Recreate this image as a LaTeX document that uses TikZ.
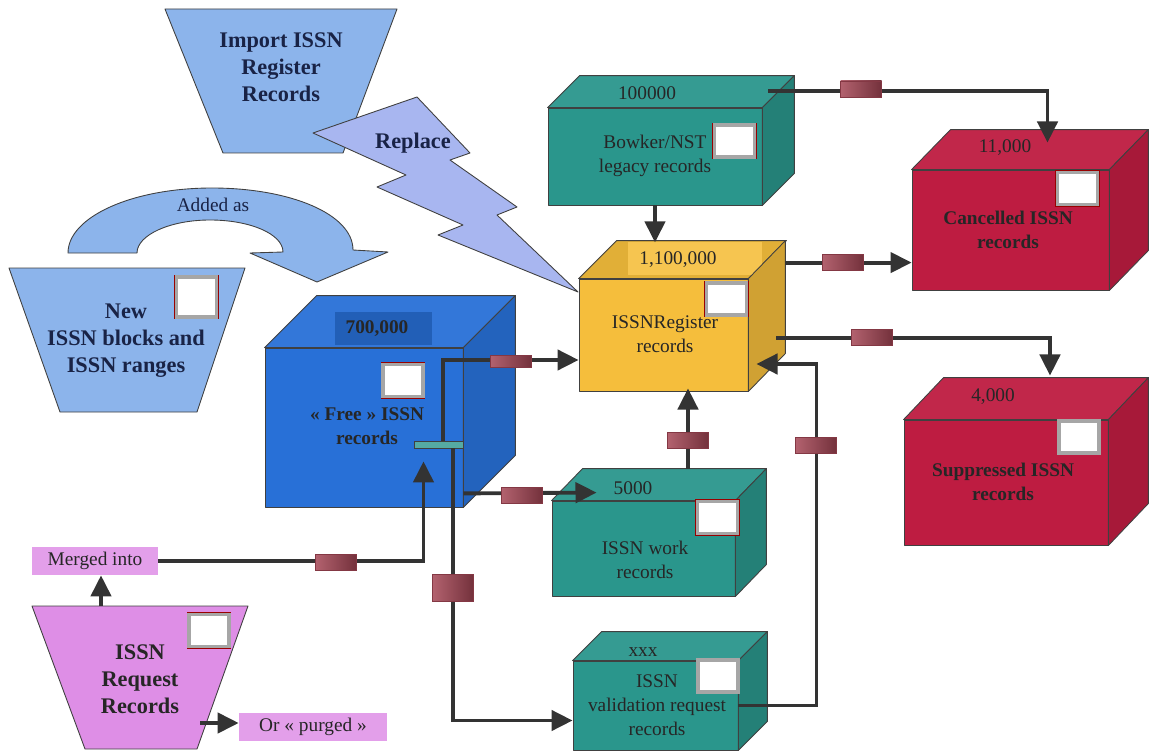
\documentclass[tikz,border=0pt]{standalone}
\usepackage{fontspec}
\setmainfont{Liberation Serif}
\usetikzlibrary{arrows.meta,positioning}

\definecolor{trapblue}{RGB}{140,180,235}
\definecolor{boltblue}{RGB}{168,182,240}
\definecolor{tealbox}{RGB}{42,150,140}
\definecolor{redbox}{RGB}{190,28,65}
\definecolor{bluebox}{RGB}{40,112,215}
\definecolor{yellowbox}{RGB}{245,190,60}
\definecolor{plum}{RGB}{222,142,230}
\definecolor{markred}{RGB}{165,70,85}
\definecolor{navytext}{RGB}{25,35,70}

\begin{document}
\begin{tikzpicture}[x=0.02cm, y=-0.02cm,
face/.style={draw=black!75, line width=0.5pt, line join=round},
front/.style={face, rectangle, inner sep=0pt},
flow/.style={draw=black!80, line width=2.2pt, -{Triangle[length=12pt,width=11.5pt]}},
marker/.style={rectangle, draw=markred!80!black, line width=0.3pt, minimum width=0.82cm, minimum height=0.32cm, inner sep=0pt, left color=markred!85!white, right color=markred!70!black},
icon/.style={rectangle, minimum width=0.8cm, minimum height=0.64cm, inner sep=0pt, fill=white, draw=gray!70, line width=2pt, preaction={draw=red!60!black, line width=2.8pt}},
namebox/.style={rectangle, fill=plum!85!white, inner sep=0pt, minimum height=0.56cm, font=\fontsize{11}{13.6}\selectfont, text=black!85},
title/.style={font=\bfseries\fontsize{12.7}{15.3}\selectfont, text=navytext, align=center},
boldtxt/.style={font=\bfseries\fontsize{11}{13.6}\selectfont, align=center, text=black!85},
plain/.style={font=\fontsize{11}{13.6}\selectfont, align=center, text=black!85}
]
\useasboundingbox (0,0) rectangle (1149,753);

% trapezoids, curved arrow and bolt
\draw[face, fill=trapblue] (165,9) -- (397,9) -- (343,153) -- (223,153) -- cycle;
\node[title] (import) at (281,67) {Import ISSN\\Register\\Records};
\draw[face, fill=trapblue] (9,268) -- (245,268) -- (197,412) -- (60,412) -- cycle;
\node[title] (newblocks) at (126,341) {New\\ISSN blocks and\\ISSN ranges};
\draw[face, fill=plum] (32,606) -- (248,606) -- (197,749) -- (85,749) -- cycle;
\node[title, text=black!85] (request) at (140,679) {ISSN\\Request\\Records};

\draw[face, fill=trapblue] (68,253) .. controls (68,217) and (132,188) .. (212,188)
  .. controls (290,188) and (353,214) .. (353,250) -- (388,252) -- (317,282) -- (250,253)
  -- (283,252) .. controls (283,234) and (250,220) .. (210,220)
  .. controls (170,220) and (137,235) .. (137,253) -- cycle;
\node[plain, text=navytext] (added) at (213,205) {Added as};

\draw[face, fill=boltblue] (313,133) -- (417,97) -- (470,153) -- (450,160) -- (517,207)
  -- (497,215) -- (578,292) -- (438,235) -- (463,225) -- (377,187) -- (406,175) -- cycle;
\node[title] (replace) at (413,143) {Replace};

% record boxes
\node[front, fill=tealbox, minimum width=4.28cm, minimum height=1.94cm] (legacy) at (655,156.5) {};
\draw[face, fill=tealbox!95!white] (legacy.north west) -- ++(32,-32) -- ([shift={(32,-32)}]legacy.north east) -- (legacy.north east) -- cycle;
\draw[face, fill=tealbox!85!black] (legacy.north east) -- ++(32,-32) -- ([shift={(32,-32)}]legacy.south east) -- (legacy.south east) -- cycle;
\node[plain] (legacycount) at (647,93) {100000};
\node[plain] (legacytxt) at (655,156) {Bowker/NST\\legacy records};

\node[front, fill=yellowbox, minimum width=3.38cm, minimum height=2.24cm] (register) at (663.5,335) {};
\draw[face, fill=yellowbox!92!black] (register.north west) -- ++(38,-38) -- ([shift={(38,-38)}]register.north east) -- (register.north east) -- cycle;
\fill[yellowbox!90!white] (628,242) rectangle (762,275);
\draw[face, fill=yellowbox!85!black] (register.north east) -- ++(37,-38) -- ([shift={(37,-38)}]register.south east) -- (register.south east) -- cycle;
\node[plain] (regcount) at (678,260) {1,100,000};
\node[plain] (regtxt) at (665,334) {ISSNRegister\\records};

\node[front, fill=bluebox, minimum width=3.96cm, minimum height=3.18cm] (free) at (364,427.5) {};
\draw[face, fill=bluebox!95!white] (free.north west) -- ++(52,-52) -- ([shift={(52,-52)}]free.north east) -- (free.north east) -- cycle;
\fill[bluebox!85!black] (335,312) rectangle (432,345);
\draw[face, fill=bluebox!88!black] (free.north east) -- ++(52,-52) -- ([shift={(52,-52)}]free.south east) -- (free.south east) -- cycle;
\node[boldtxt] (freecount) at (377,329) {700,000};
\node[boldtxt] (freetxt) at (367,426) {« Free » ISSN\\records};

\node[front, fill=redbox, minimum width=3.94cm, minimum height=2.4cm] (cancelled) at (1010.5,230) {};
\draw[face, fill=redbox!95!white] (cancelled.north west) -- ++(39,-40) -- ([shift={(39,-40)}]cancelled.north east) -- (cancelled.north east) -- cycle;
\draw[face, fill=redbox!88!black] (cancelled.north east) -- ++(39,-40) -- ([shift={(39,-40)}]cancelled.south east) -- (cancelled.south east) -- cycle;
\node[plain] (cancelcount) at (1005,148) {11,000};
\node[boldtxt] (canceltxt) at (1008,230) {Cancelled ISSN\\records};

\node[front, fill=redbox, minimum width=4.08cm, minimum height=2.5cm] (suppressed) at (1006,482.5) {};
\draw[face, fill=redbox!95!white] (suppressed.north west) -- ++(40,-42) -- ([shift={(40,-42)}]suppressed.north east) -- (suppressed.north east) -- cycle;
\draw[face, fill=redbox!88!black] (suppressed.north east) -- ++(40,-42) -- ([shift={(40,-42)}]suppressed.south east) -- (suppressed.south east) -- cycle;
\node[plain] (suppcount) at (993,397) {4,000};
\node[boldtxt] (supptxt) at (1003,482) {Suppressed ISSN\\records};

\node[front, fill=tealbox, minimum width=3.66cm, minimum height=1.9cm] (work) at (643.5,548.5) {};
\draw[face, fill=tealbox!95!white] (work.north west) -- ++(31,-32) -- ([shift={(31,-32)}]work.north east) -- (work.north east) -- cycle;
\draw[face, fill=tealbox!85!black] (work.north east) -- ++(31,-32) -- ([shift={(31,-32)}]work.south east) -- (work.south east) -- cycle;
\node[plain] (workcount) at (633,488) {5000};
\node[plain] (worktxt) at (645,560) {ISSN work\\records};

\node[front, fill=tealbox, minimum width=3.3cm, minimum height=1.78cm] (validation) at (655.5,705.5) {};
\draw[face, fill=tealbox!95!white] (validation.north west) -- ++(29,-29) -- ([shift={(29,-29)}]validation.north east) -- (validation.north east) -- cycle;
\draw[face, fill=tealbox!85!black] (validation.north east) -- ++(29,-29) -- ([shift={(29,-29)}]validation.south east) -- (validation.south east) -- cycle;
\node[plain] (validcount) at (643,652) {xxx};
\node[plain] (validtxt) at (657,705) {ISSN\\validation request\\records};

\node[namebox, minimum width=2.52cm] (merged) at (95,561) {Merged into};
\node[namebox, minimum width=2.96cm] (purged) at (313,727) {Or « purged »};

\node[rectangle, draw=black!75, line width=0.4pt, fill=tealbox!80!white, minimum width=0.98cm, minimum height=0.14cm, inner sep=0pt] (bar) at (438.5,444.5) {};

% connectors
\draw[flow] ([shift={(6,-17)}]legacy.north east) -| ([shift={(37,-27)}]cancelled.north);
\draw[flow] (legacy.south) -- ++(0,37);
\draw[flow] ([shift={(37,-16)}]register.north east) coordinate (r1) -- (cancelled.west |- r1);
\draw[flow] ([shift={(28,3)}]register.east) -| ([shift={(44,-44)}]suppressed.north);
\draw[flow] ([shift={(4.5,0)}]bar.north) |- ([shift={(0,25)}]register.west);
\draw[flow] ([shift={(0,-14)}]free.south east) -- ([shift={(45,-8)}]work.north west);
\draw[flow] (merged.east) -| ([shift={(-15,13)}]bar.south);
\draw[flow] ([shift={(14.5,0)}]bar.south) |- ([shift={(0,15)}]validation.west);
\draw[flow] ([shift={(44.5,-32)}]work.north) -- ([shift={(24.5,-3)}]register.south);
\draw[flow] (validation.east) -- ++(78,0) |- ([shift={(8,29)}]register.east);
\coordinate (reqtop) at (101,606);
\draw[flow] (reqtop) -- (reqtop |- merged.south);
\coordinate (reqright) at (200,723);
\draw[flow] (reqright) -- (reqright -| purged.west);

% markers on the connectors
\node[marker] (m1) at (861,89) {};
\node[marker] (m2) at (843,262) {};
\node[marker] (m3) at (872,337) {};
\node[marker, minimum height=0.24cm] (m4) at (511,361) {};
\node[marker] (m5) at (522,495) {};
\node[marker] (m6) at (336,562) {};
\node[marker, minimum height=0.54cm] (m7) at (453,588) {};
\node[marker] (m8) at (688,440) {};
\node[marker] (m9) at (816,445) {};

% icons
\node[icon, minimum height=0.8cm] (newicon) at (196.5,297) {};
\node[icon] (freeicon) at (403,380.5) {};
\node[icon] (regicon) at (726.5,299) {};
\node[icon] (legacyicon) at (734.5,141) {};
\node[icon] (cancelicon) at (1077.5,188.5) {};
\node[icon] (suppicon) at (1079,437) {};
\node[icon] (workicon) at (717.5,517.5) {};
\node[icon] (valicon) at (718,676) {};
\node[icon] (reqicon) at (209,630.5) {};
\end{tikzpicture}
\end{document}
